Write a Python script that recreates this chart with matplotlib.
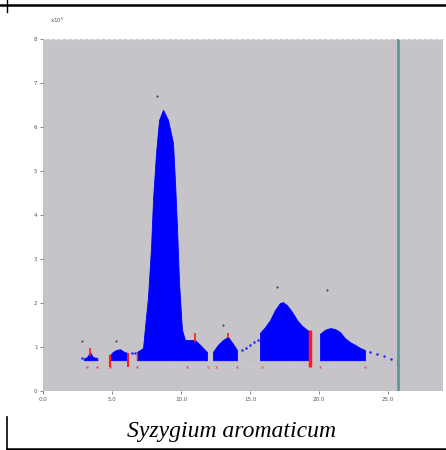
import matplotlib.pyplot as plt
from matplotlib.lines import Line2D

# retention time (min) and detector response
base = 0.70

seg1_t = [2.97, 3.19, 3.41, 3.62, 3.94]
seg1_y = [0.74, 0.77, 0.88, 0.77, 0.75]

seg2_t = [4.86, 5.07, 5.29, 5.58, 5.87, 6.16]
seg2_y = [0.82, 0.89, 0.93, 0.95, 0.89, 0.86]

seg3_t = [6.81, 7.03, 7.25, 7.39, 7.61, 7.83, 7.97, 8.19, 8.41, 8.70, 9.06,
          9.42, 9.57, 9.71, 9.86, 10.07, 10.29, 10.65, 11.01, 11.38, 11.74, 11.88]
seg3_y = [0.89, 0.93, 0.98, 1.45, 2.14, 3.27, 4.34, 5.41, 6.16, 6.39, 6.16,
          5.64, 4.73, 3.73, 2.45, 1.39, 1.16, 1.16, 1.16, 1.05, 0.93, 0.89]

seg4_t = [12.32, 12.68, 13.04, 13.41, 13.77, 14.06]
seg4_y = [0.89, 1.05, 1.16, 1.23, 1.07, 0.93]

seg5_t = [15.72, 16.09, 16.45, 16.81, 17.17, 17.39, 17.68, 18.04, 18.41, 18.77, 19.13, 19.35]
seg5_y = [1.32, 1.45, 1.61, 1.84, 2.00, 2.02, 1.95, 1.80, 1.61, 1.48, 1.39, 1.34]

seg6_t = [20.07, 20.43, 20.80, 21.16, 21.52, 21.88, 22.25, 22.61, 22.97, 23.33]
seg6_y = [1.30, 1.39, 1.43, 1.41, 1.34, 1.20, 1.11, 1.05, 0.98, 0.93]

# trace points outside the integrated areas
dots_t = [2.83, 6.45, 6.67, 14.42, 14.71, 15.00, 15.29, 15.58, 23.70, 24.20, 24.71, 25.22]
dots_y = [0.75, 0.86, 0.86, 0.93, 0.98, 1.05, 1.11, 1.16, 0.89, 0.84, 0.80, 0.73]

# peak apex marks
apex_t = [2.83, 5.29, 8.26, 13.04, 16.96, 20.58]
apex_y = [1.14, 1.14, 6.70, 1.50, 2.36, 2.30]

# integration start/end marks
mark_t = [3.19, 3.91, 4.86, 6.81, 10.43, 11.96, 12.54, 14.06, 15.87, 20.07, 23.33]
mark_y = 0.55

# drop lines (time, bottom, top)
drop_t = [3.41, 4.86, 6.16, 6.81, 11.01, 13.41, 19.35, 25.72]
drop_lo = [0.80, 0.55, 0.55, 0.70, 1.12, 1.20, 0.55, 0.55]
drop_hi = [0.98, 0.82, 0.86, 0.89, 1.32, 1.32, 1.39, 0.70]
drop_w = [1.2, 1.5, 1.5, 1.0, 1.2, 1.2, 2.5, 1.5]

cutoff = 25.72

xticks = [0, 5, 10, 15, 20, 25]
xlabels = ["0.0", "5.0", "10.0", "15.0", "20.0", "25.0"]
yticks = [0, 1, 2, 3, 4, 5, 6, 7, 8]
ylabels = ["0", "1", "2", "3", "4", "5", "6", "7", "8"]

fig = plt.figure(figsize=(4.46, 4.5), dpi=100)
ax = fig.add_axes([43 / 446, 59 / 450, 400 / 446, 352 / 450])
ax.set_facecolor("#c6c4c8")
ax.set_xlim(0, 400 / 13.8)
ax.set_ylim(0, 8)

for t, y in [(seg1_t, seg1_y), (seg2_t, seg2_y), (seg3_t, seg3_y),
             (seg4_t, seg4_y), (seg5_t, seg5_y), (seg6_t, seg6_y)]:
    ax.fill_between(t, base, y, color="#0000ff", lw=0.6, edgecolor="#0000ff")

ax.plot(dots_t, dots_y, ls="none", marker="o", ms=1.8, color="#2020ff", mec="none")
ax.plot(mark_t, [mark_y] * len(mark_t), ls="none", marker="s", ms=1.6,
        color="#ff4040", mec="none")
ax.plot([6.9, 23.3], [mark_y, mark_y], ls=(0, (1, 3)), lw=0.6, color="#dcdadc")
ax.plot(apex_t, apex_y, ls="none", marker="o", ms=1.5, color="#404040", mec="none")
for t, lo, hi, w in zip(drop_t, drop_lo, drop_hi, drop_w):
    ax.plot([t, t], [lo, hi], color="#ff1a1a", lw=w, solid_capstyle="butt")

ax.axvline(cutoff, color="#5e9898", lw=2)
ax.axhline(8, color="#e4e2e4", lw=0.8, ls=(0, (3, 2)))

for s in ax.spines.values():
    s.set_visible(False)
ax.set_xticks(xticks)
ax.set_xticklabels(xlabels)
ax.set_yticks(yticks)
ax.set_yticklabels(ylabels)
ax.tick_params(labelsize=4, colors="#555555", length=2, width=0.5, pad=2)
fig.text(50 / 446, 1 - 20 / 450, "x10$^5$", fontsize=4, color="#555555",
         ha="left", va="center")

# table borders around the figure
fig.add_artist(Line2D([0, 1], [1 - 5 / 450] * 2, color="black", lw=1.8))
fig.add_artist(Line2D([7 / 446] * 2, [1, 1 - 12 / 450], color="black", lw=1.0))
fig.add_artist(Line2D([7 / 446, 1], [1 / 450] * 2, color="black", lw=1.8))
fig.add_artist(Line2D([7 / 446] * 2, [1 / 450, 33 / 450], color="black", lw=1.2))

fig.text(231 / 446, 1 - 431 / 450, "Syzygium aromaticum", fontsize=17,
         family="Liberation Serif", style="italic", ha="center", va="center")

fig.savefig("out.png", dpi=100)
